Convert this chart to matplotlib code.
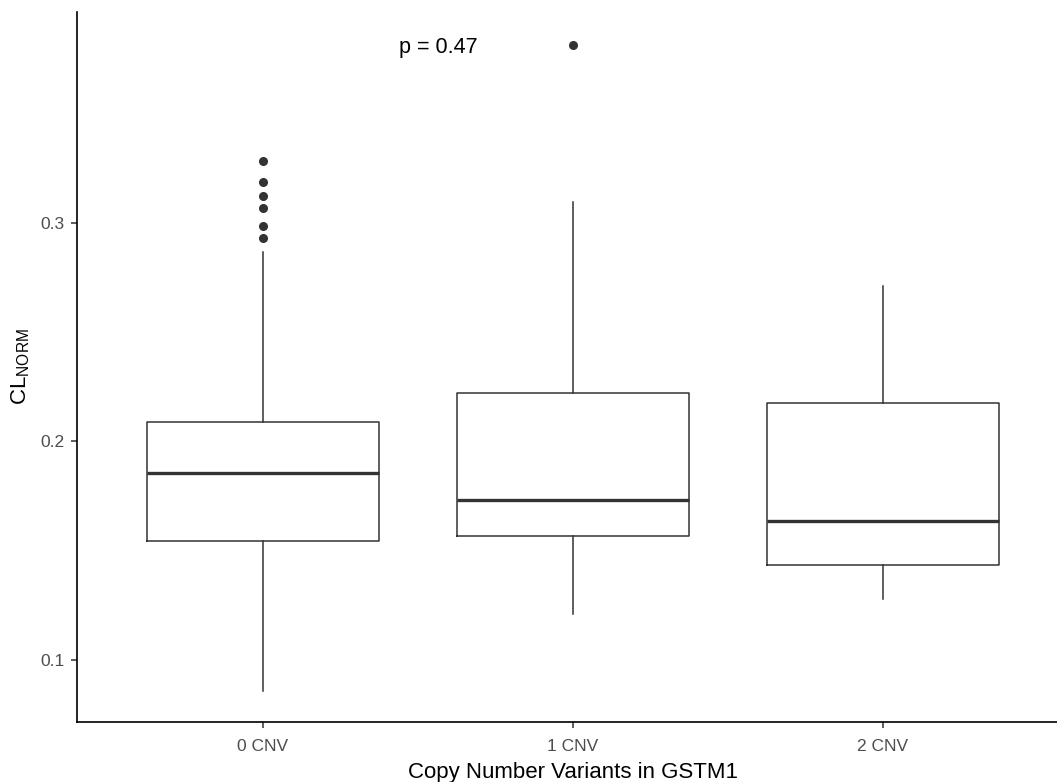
import matplotlib.pyplot as plt

plt.rcParams['font.family'] = ['Liberation Sans', 'DejaVu Sans']
plt.rcParams['mathtext.fontset'] = 'custom'
plt.rcParams['mathtext.rm'] = 'Liberation Sans'

# CL_NORM summary per GSTM1 copy number group
groups = ['0 CNV', '1 CNV', '2 CNV']
whislo = [0.0858, 0.1211, 0.1279]
q1 = [0.1545, 0.1568, 0.1435]
med = [0.1856, 0.1732, 0.1636]
q3 = [0.2089, 0.2222, 0.2176]
whishi = [0.2867, 0.3096, 0.2712]
fliers = [
    [0.3284, 0.3188, 0.3124, 0.3069, 0.2986, 0.2931],
    [0.3815],
    [],
]
p_value = 0.47

stats = []
for i, g in enumerate(groups):
    stats.append(dict(label=g, whislo=whislo[i], q1=q1[i], med=med[i],
                      q3=q3[i], whishi=whishi[i], fliers=fliers[i]))

W, H = 1057, 782
fig = plt.figure(figsize=(W / 100, H / 100), dpi=100)
ax = fig.add_axes([77 / W, 1 - 722 / H, 992 / W, 710 / H])

dark = '#333333'
ax.bxp(stats, positions=[1, 2, 3], widths=0.75, showcaps=False,
       boxprops=dict(color=dark, linewidth=1.1),
       whiskerprops=dict(color=dark, linewidth=1.1),
       medianprops=dict(color=dark, linewidth=2.4),
       flierprops=dict(marker='o', markersize=5.5, markerfacecolor=dark,
                       markeredgecolor=dark))

ax.set_xlim(0.4, 3.6)
ax.set_ylim(0.0716, 0.3966)
ax.set_yticks([0.1, 0.2, 0.3])
ax.set_yticklabels(['0.1', '0.2', '0.3'])
ax.set_xticks([1, 2, 3])
ax.set_xticklabels(groups)

for side in ['top', 'right']:
    ax.spines[side].set_visible(False)
for side in ['left', 'bottom']:
    ax.spines[side].set_linewidth(1.2)
    ax.spines[side].set_color('black')
ax.tick_params(colors=dark, labelcolor='#4D4D4D', labelsize=12.5,
               length=4, width=1.1)
ax.tick_params(axis='x', pad=8)
ax.tick_params(axis='y', pad=5)

ax.set_xlabel('Copy Number Variants in GSTM1', fontsize=16, color='black',
              labelpad=6)
ax.set_ylabel(r'CL$_{\mathrm{NORM}}$', fontsize=16, color='black',
              labelpad=6)

ax.text(1.44, 0.3805, f'p = {p_value}', fontsize=15.5, ha='left', va='center',
        color='black')

fig.savefig('out.png', dpi=100)
